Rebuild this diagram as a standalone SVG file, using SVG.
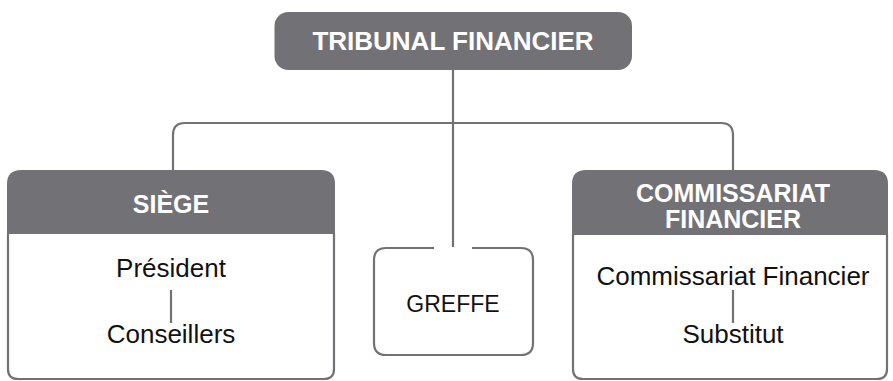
<svg xmlns="http://www.w3.org/2000/svg" width="893" height="381" viewBox="0 0 893 381">
<style>
.hdr{fill:#727176;stroke:none}
.box{fill:#fff;stroke:#727176;stroke-width:2.2}
.con{fill:none;stroke:#727176;stroke-width:2.2}
.ht{font-family:"Liberation Sans",Arial,sans-serif;font-weight:bold;fill:#fff;text-anchor:middle}
.bt{font-family:"Liberation Sans",Arial,sans-serif;fill:#111;text-anchor:middle;font-size:26px}
</style>
<rect width="893" height="381" fill="#fff"/>
<g id="tribunal">
<rect x="274.5" y="12" width="357.5" height="58" rx="14" class="hdr"/>
<text x="453" y="50" class="ht" font-size="26">TRIBUNAL FINANCIER</text>
</g>
<g id="siege">
<path class="box" d="M8 234 V369 Q8 379 18 379 H324 Q334 379 334 369 V234"/>
<path class="hdr" d="M7 234 V184 Q7 170 21 170 H321 Q335 170 335 184 V234 Z"/>
<text x="171" y="213" class="ht" font-size="25">SIÈGE</text>
<text x="171" y="277" class="bt">Président</text>
<text x="171" y="343" class="bt">Conseillers</text>
</g>
<g id="greffe">
<path class="box" d="M434 248 H386 Q374 248 374 260 V343 Q374 355 386 355 H521 Q533 355 533 343 V260 Q533 248 521 248 H472"/>
<text x="453" y="312" class="bt" font-size="23" style="font-size:23px">GREFFE</text>
</g>
<g id="commissariat">
<path class="box" d="M573 234 V369 Q573 379 583 379 H877 Q887 379 887 369 V234"/>
<path class="hdr" d="M572 235 V184 Q572 170 586 170 H874 Q888 170 888 184 V235 Z"/>
<text x="733" y="202" class="ht" font-size="25">COMMISSARIAT</text>
<text x="733" y="228" class="ht" font-size="25">FINANCIER</text>
<text x="733" y="285" class="bt">Commissariat Financier</text>
<text x="733" y="343" class="bt">Substitut</text>
</g>
<g id="connectors" class="con">
<path d="M453 70 V247"/>
<path d="M173 170 V135 Q173 123 185 123 H721 Q733 123 733 135 V170"/>
<path d="M171 290 V323"/>
<path d="M733 290 V323"/>
</g>
</svg>
